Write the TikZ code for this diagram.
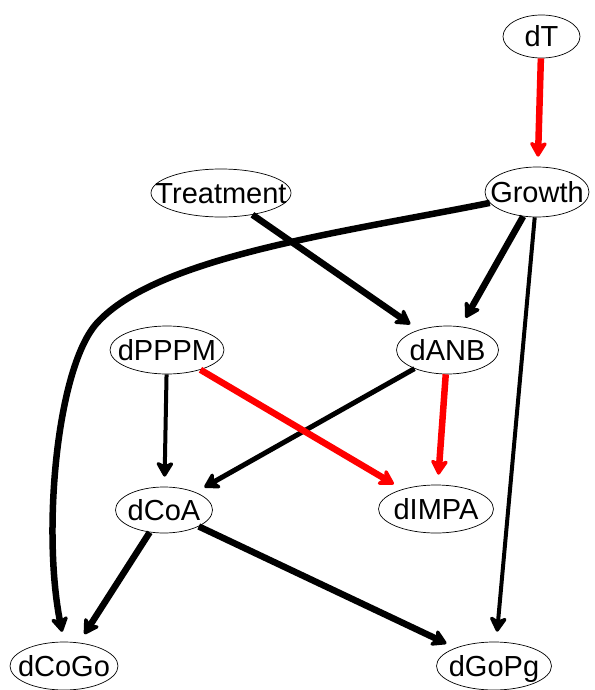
\documentclass[tikz,border=0pt]{standalone}
\usepackage{fontspec}
\setmainfont{Liberation Sans}
\usetikzlibrary{shapes.geometric,arrows.meta}
\begin{document}
\begin{tikzpicture}[x=1pt,y=-1pt,
  vnode/.style={ellipse,draw,line width=0.7pt,inner sep=0pt,minimum height=48pt,
    font=\fontsize{29}{34}\selectfont,text height=20.8pt,text depth=0pt},
  edgebase/.style={shorten >=10pt,-{Stealth[length=18pt,width=21pt,inset=5pt,round]}},
  thickblk/.style={edgebase,line width=6.5pt},
  medblk/.style={edgebase,line width=5pt},
  thinblk/.style={edgebase,line width=4pt},
  thickred/.style={edgebase,line width=6.5pt,draw=red,fill=red}]
\useasboundingbox (0,0) rectangle (594,690);
\node[vnode,minimum width=77pt,minimum height=43pt] (dT) at (541.5,36.5) {\makebox[0pt]{dT}};
\node[vnode,minimum width=104pt,minimum height=50pt] (Growth) at (537,192) {\makebox[0pt]{Growth}};
\node[vnode,minimum width=140pt] (Treatment) at (221,193) {\makebox[0pt]{Treatment}};
\node[vnode,minimum width=114pt] (dPPPM) at (167,350) {\makebox[0pt]{dPPPM}};
\node[vnode,minimum width=102pt] (dANB) at (447.5,350) {\makebox[0pt]{dANB}};
\node[vnode,minimum width=97pt,minimum height=46pt] (dCoA) at (164,510) {\makebox[0pt]{dCoA}};
\node[vnode,minimum width=115pt] (dIMPA) at (436,509) {\makebox[0pt]{dIMPA}};
\node[vnode,minimum width=108pt] (dCoGo) at (64,666) {\makebox[0pt]{dCoGo}};
\node[vnode,minimum width=115pt] (dGoPg) at (494,666) {\makebox[0pt]{dGoPg}};
\coordinate (bend) at (97,323);
\draw[thickred] (dT) -- (Growth);
\draw[thickblk] (Growth.193) .. controls (339,233) and (157,257) .. (bend)
  .. controls (57,367) and (42,530) .. (dCoGo.north);
\draw[thickblk] (Growth) -- (dANB);
\draw[thinblk] (Growth) -- (dGoPg);
\draw[thickblk] (Treatment) -- (dANB);
\draw[medblk] (dANB) -- (dCoA);
\draw[thickred] (dANB) -- (dIMPA);
\draw[thickred] (dPPPM) -- (dIMPA);
\draw[thinblk] (dPPPM) -- (dCoA);
\draw[thickblk] (dCoA) -- (dCoGo);
\draw[thickblk] (dCoA) -- (dGoPg);
\end{tikzpicture}
\end{document}
